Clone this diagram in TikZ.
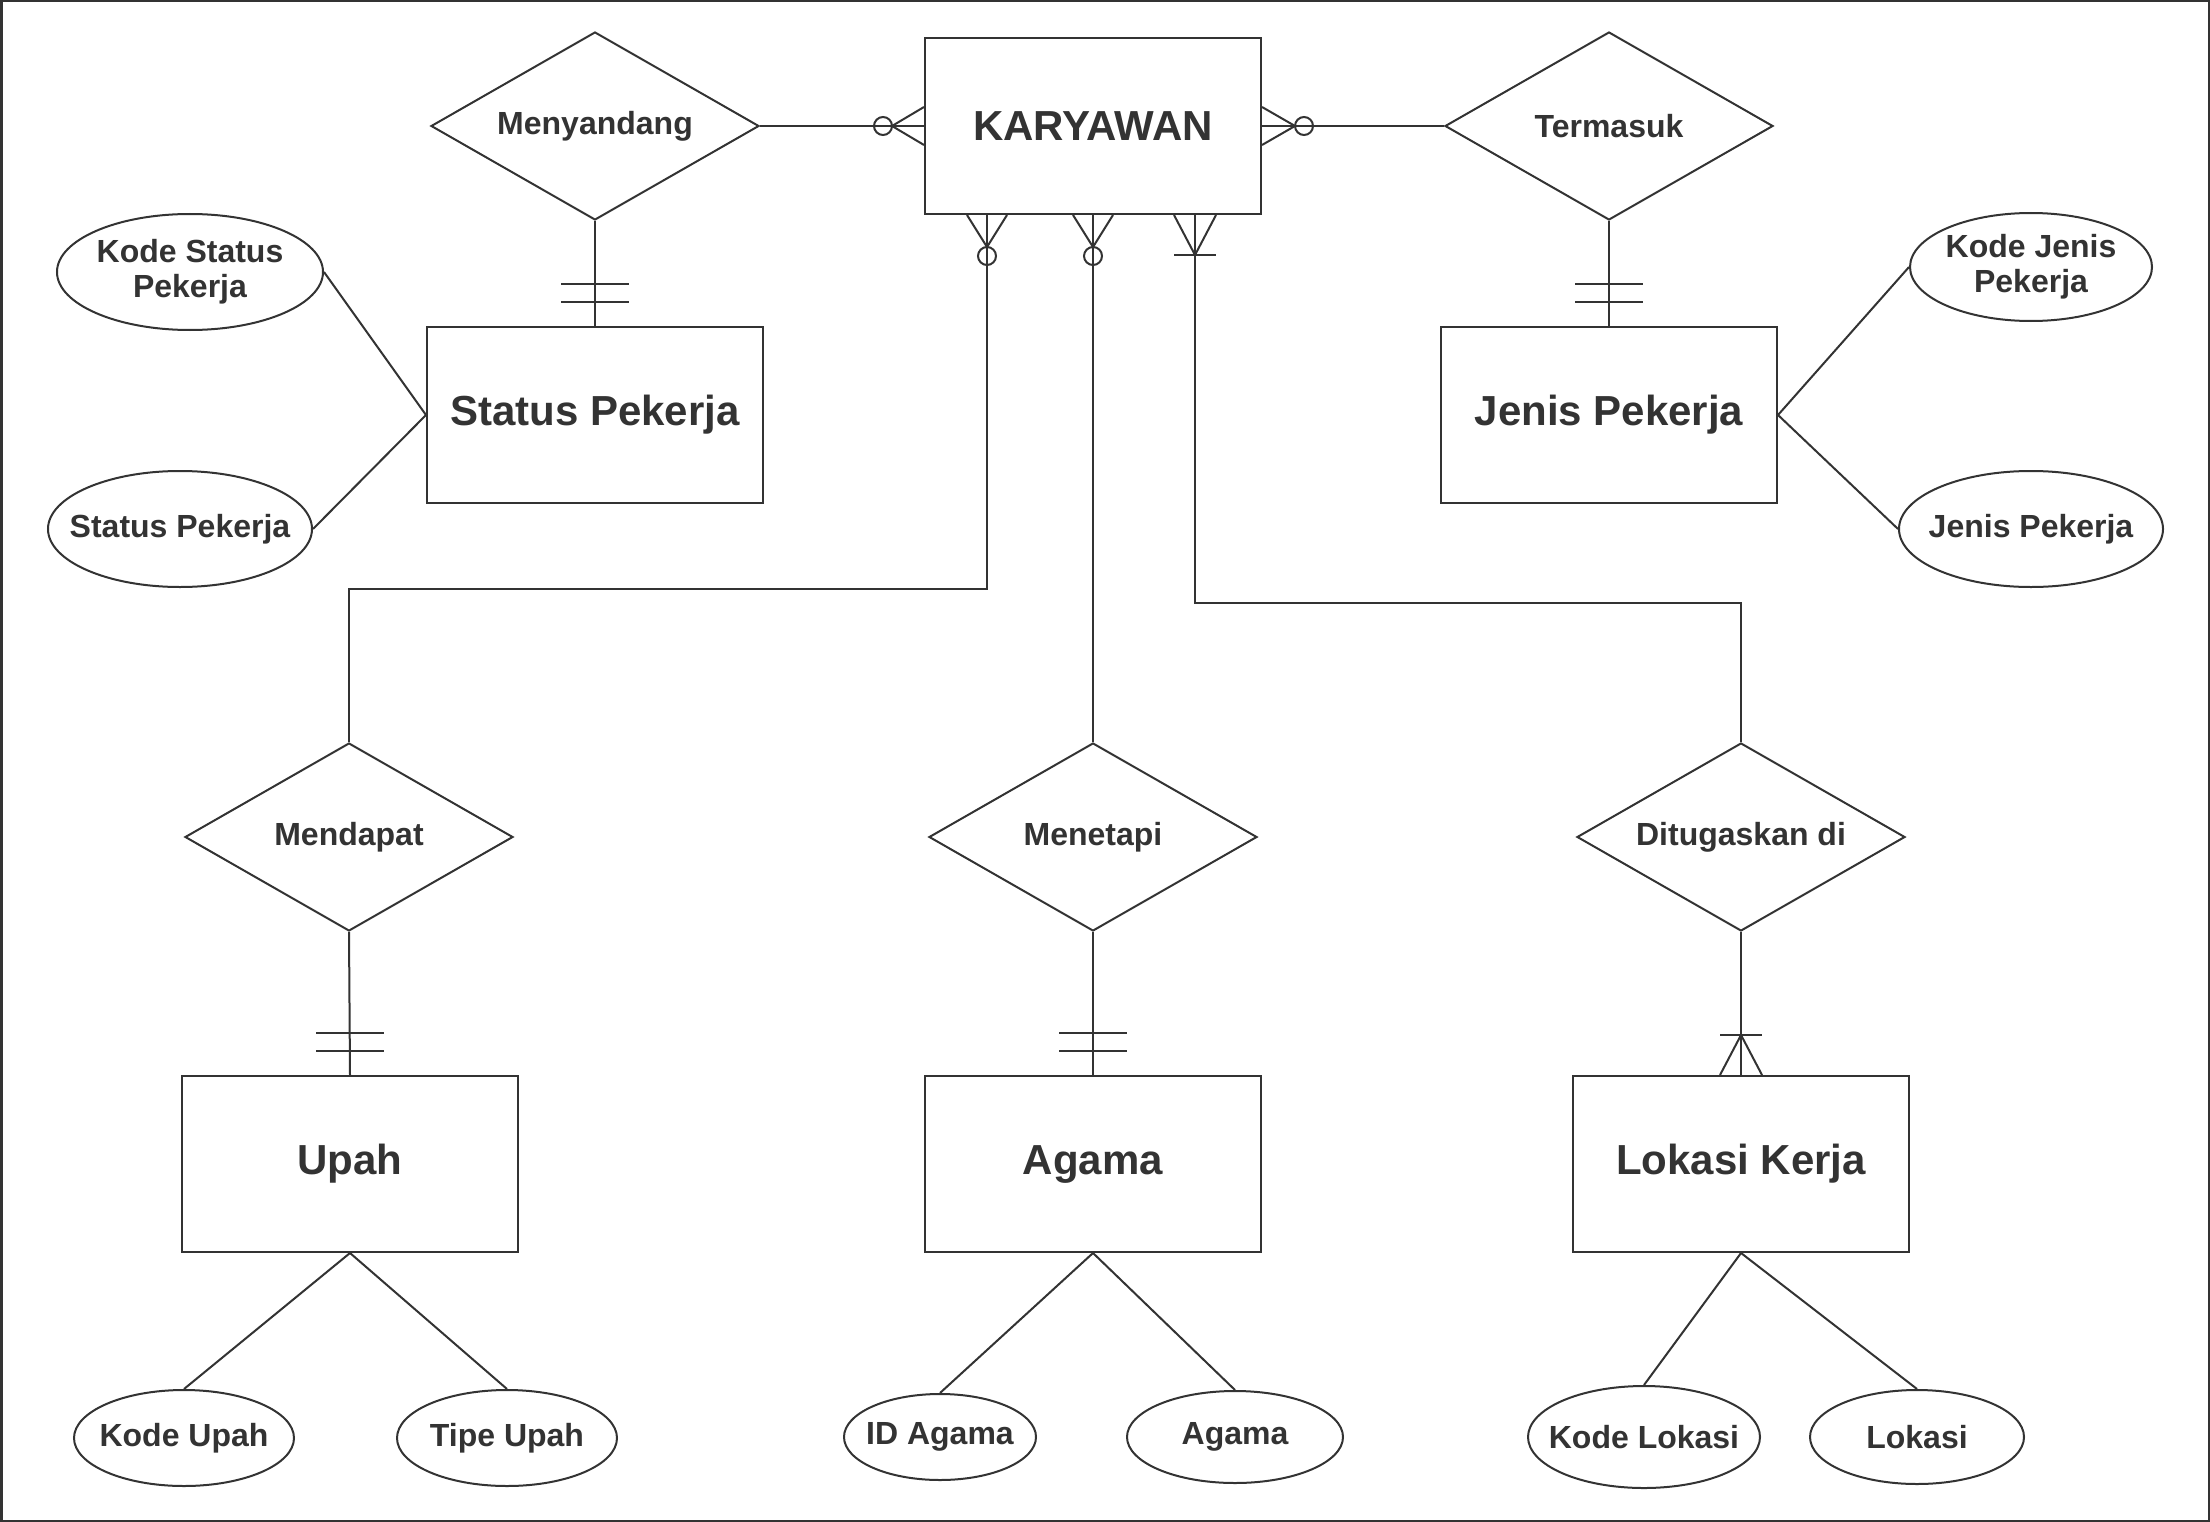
\documentclass[tikz,border=0pt]{standalone}
\usepackage{fontspec}
\setmainfont{Liberation Sans}
\usetikzlibrary{shapes.geometric,calc}
\definecolor{erline}{RGB}{51,51,51}
\tikzset{
  entity/.style={draw, rectangle, minimum width=336pt, minimum height=176pt,
    font=\fontsize{42}{46}\selectfont\bfseries},
  relation/.style={draw, diamond, aspect=1.745, inner sep=0pt,
    minimum width=328pt, minimum height=188pt, font=\fontsize{32}{35}\selectfont\bfseries},
  attribute/.style={draw, ellipse, inner sep=0pt},
  every label/.style={font=\fontsize{32}{35}\selectfont\bfseries, align=center, text=erline},
}
\begin{document}
\begin{tikzpicture}[x=1pt, y=-1pt, line width=2pt, erline]
  \useasboundingbox (0,0) rectangle (2210,1522);
  \draw[line width=2.5pt] (1.25,1.25) rectangle (2208.75,1520.75);

  % entitas
  \node[entity] (kar) at (1093,126) {KARYAWAN};
  \node[entity] (stat) at (595,415) {Status Pekerja};
  \node[entity] (jenis) at (1609,415) {Jenis Pekerja};
  \node[entity] (upah) at (350,1164) {Upah};
  \node[entity] (agama) at (1093,1164) {Agama};
  \node[entity] (lokasi) at (1741,1164) {Lokasi Kerja};

  % relasi
  \node[relation] (menyandang) at (595,126) {Menyandang};
  \node[relation] (termasuk) at (1609,126) {Termasuk};
  \node[relation] (mendapat) at (349,837) {Mendapat};
  \node[relation] (menetapi) at (1093,837) {Menetapi};
  \node[relation] (ditugaskan) at (1741,837) {Ditugaskan di};

  % atribut
  \node[attribute, minimum width=266pt, minimum height=116pt, label=center:{Kode Status\\Pekerja}] (kodestatus) at (190,272) {};
  \node[attribute, minimum width=264pt, minimum height=116pt, label=center:{Status Pekerja}] (statusattr) at (180,529) {};
  \node[attribute, minimum width=242pt, minimum height=108pt, label=center:{Kode Jenis\\Pekerja}] (kodejenis) at (2031,267) {};
  \node[attribute, minimum width=264pt, minimum height=116pt, label=center:{Jenis Pekerja}] (jenisattr) at (2031,529) {};
  \node[attribute, minimum width=220pt, minimum height=96pt, label=center:{Kode Upah}] (kodeupah) at (184,1438) {};
  \node[attribute, minimum width=220pt, minimum height=96pt, label=center:{Tipe Upah}] (tipeupah) at (507,1438) {};
  \node[attribute, minimum width=192pt, minimum height=86pt, label=center:{ID Agama}] (idagama) at (940,1437) {};
  \node[attribute, minimum width=216pt, minimum height=92pt, label=center:{Agama}] (agamaattr) at (1235,1437) {};
  \node[attribute, minimum width=232pt, minimum height=102pt, label=center:{Kode Lokasi}] (kodelokasi) at (1644,1437) {};
  \node[attribute, minimum width=214pt, minimum height=94pt, label=center:{Lokasi}] (lokasiattr) at (1917,1437) {};

  \draw (stat.west) -- (kodestatus.east);
  \draw (stat.west) -- (statusattr.east);
  \draw (jenis.east) -- (kodejenis.west);
  \draw (jenis.east) -- (jenisattr.west);
  \draw (upah.south) -- (kodeupah.north);
  \draw (upah.south) -- (tipeupah.north);
  \draw (agama.south) -- (idagama.north);
  \draw (agama.south) -- (agamaattr.north);
  \draw (lokasi.south) -- (kodelokasi.north);
  \draw (lokasi.south) -- (lokasiattr.north);

  % relasi ke entitas
  \coordinate (kar1) at ($(kar.south)+(-106,0)$);
  \coordinate (kar3) at ($(kar.south)+(102,0)$);
  \draw (menyandang.east) -- (kar.west);
  \draw (kar.east) -- (termasuk.west);
  \draw (menyandang.south) -- (stat.north);
  \draw (termasuk.south) -- (jenis.north);
  \draw (kar1) -- ++(0,374) -| (mendapat.north);
  \draw (kar.south) -- (menetapi.north);
  \draw (kar3) -- ++(0,388) -| (ditugaskan.north);
  \draw (mendapat.south) -- (upah.north);
  \draw (menetapi.south) -- (agama.north);
  \draw (ditugaskan.south) -- (lokasi.north);

  % kardinalitas
  \foreach \e in {stat,jenis,upah,agama}
    \foreach \d in {24,42}
      \draw ($(\e.north)+(-34,-\d)$) -- ++(68,0);
  \foreach \kk in {kar1,kar.south} {
    \draw ($(\kk)+(-20,0)$) -- ($(\kk)+(0,32)$) -- ($(\kk)+(20,0)$);
    \draw ($(\kk)+(0,41)$) circle[radius=9pt];
  }
  \draw ($(kar.west)+(0,-19)$) -- ($(kar.west)+(-32,0)$) -- ($(kar.west)+(0,19)$);
  \draw ($(kar.west)+(-41,0)$) circle[radius=9pt];
  \draw ($(kar.east)+(0,-19)$) -- ($(kar.east)+(33,0)$) -- ($(kar.east)+(0,19)$);
  \draw ($(kar.east)+(42,0)$) circle[radius=9pt];
  \draw ($(kar3)+(-21,0)$) -- ($(kar3)+(0,40)$) -- ($(kar3)+(21,0)$);
  \draw ($(kar3)+(-21,40)$) -- ++(42,0);
  \draw ($(lokasi.north)+(-21,0)$) -- ($(lokasi.north)+(0,-40)$) -- ($(lokasi.north)+(21,0)$);
  \draw ($(lokasi.north)+(-21,-40)$) -- ++(42,0);
\end{tikzpicture}
\end{document}
